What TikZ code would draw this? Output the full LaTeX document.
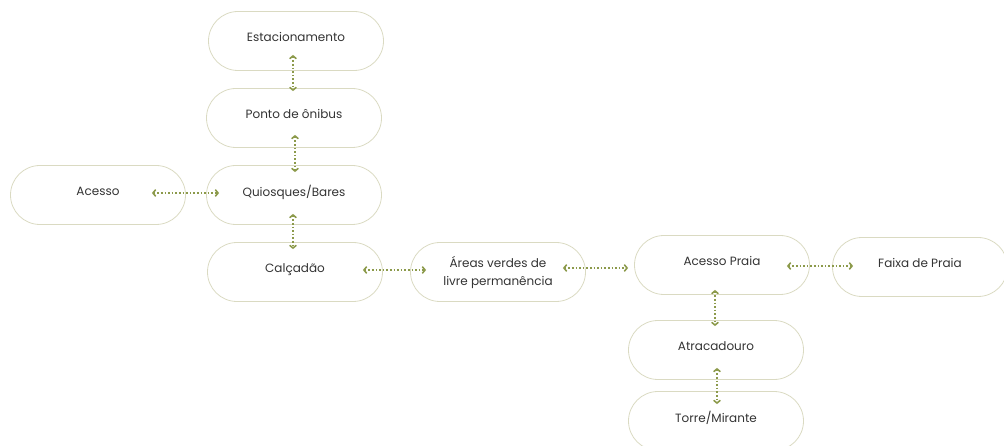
\documentclass[tikz,border=0pt]{standalone}
\usepackage{fontspec}
\setmainfont{Poppins}
\usetikzlibrary{arrows.meta}

\definecolor{olive}{HTML}{8C9A4B}
\definecolor{khaki}{HTML}{DADAC2}
\definecolor{ink}{HTML}{333333}

\tikzset{
  place/.style={draw=khaki, line width=0.8pt, rounded corners=29.5pt,
    minimum width=175pt, minimum height=59pt, align=center, text=ink,
    text depth=8pt, font=\fontsize{12}{18}\selectfont},
  link/.style={olive, line width=1.6pt, dotted,
    {Straight Barb[length=2.5pt,width=6pt,line cap=round]}-{Straight Barb[length=2.5pt,width=6pt,line cap=round]}}
}

\begin{document}
\begin{tikzpicture}[x=1pt,y=-1pt]

	\useasboundingbox (0,0) rectangle (1004,446);
	\clip (0,0) rectangle (1004,446);

	\node[place] (est) at (296,41) {Estacionamento};
	\node[place] (ponto) at (294,118) {Ponto de ônibus};
	\node[place] (quio) at (294,195) {Quiosques/Bares};
	\node[place] (acesso) at (98,195) {Acesso};
	\node[place] (calc) at (295,272) {Calçadão};
	\node[place, text depth=3pt] (areas) at (498,272) {Áreas verdes de\\livre permanência};
	\node[place] (praia) at (722,265) {Acesso Praia};
	\node[place] (faixa) at (920,267) {Faixa de Praia};
	\node[place] (atrac) at (716,350) {Atracadouro};
	\node[place] (torre) at (716,421) {Torre/Mirante};

	\draw[link] ([xshift=-3pt,yshift=16pt]est.south)--([xshift=-1pt,yshift=-3pt]ponto.north);
	\draw[link] ([xshift=1pt,yshift=13pt]ponto.south)--([xshift=1pt,yshift=-7pt]quio.north);
	\draw[link] ([xshift=-34pt,yshift=2pt]acesso.east)--([xshift=13pt,yshift=2pt]quio.west);
	\draw[link] ([xshift=-1pt,yshift=11pt]quio.south)--([xshift=-2pt,yshift=-7pt]calc.north);
	\draw[link] ([xshift=-20pt,yshift=2pt]calc.east)--([xshift=16pt,yshift=2pt]areas.west);
	\draw[link] ([xshift=-23pt,yshift=4pt]areas.east)--([xshift=-6pt,yshift=-3pt]praia.west);
	\draw[link] ([xshift=-23pt,yshift=-1pt]praia.east)--([xshift=21pt,yshift=1pt]faixa.west);
	\draw[link] ([xshift=-7pt,yshift=5pt]praia.south)--([xshift=-1pt,yshift=-6pt]atrac.north);
	\draw[link] ([xshift=1pt,yshift=12pt]atrac.south)--([xshift=1pt,yshift=-13pt]torre.north);
\end{tikzpicture}
\end{document}
